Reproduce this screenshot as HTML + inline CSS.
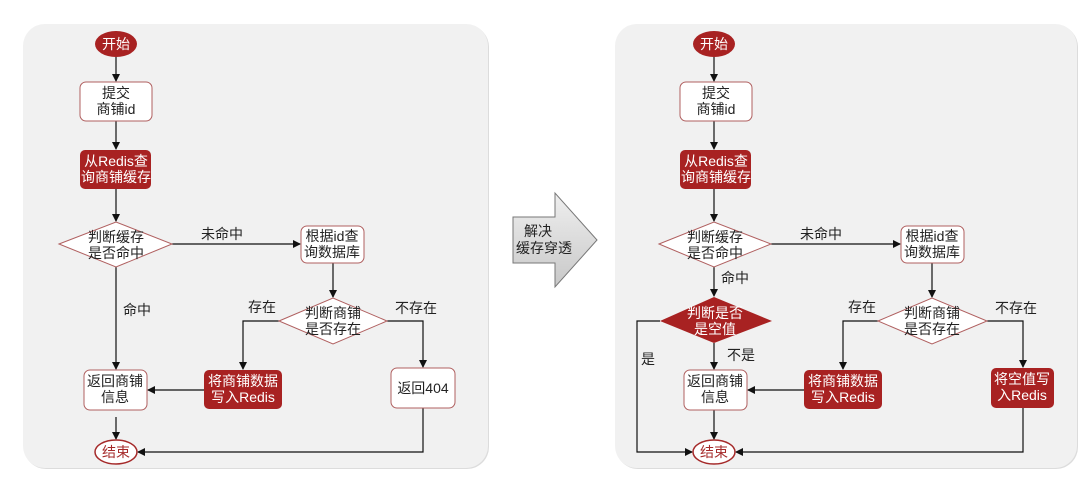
<!DOCTYPE html>
<html><head><meta charset="utf-8"><style>
html,body{margin:0;padding:0;background:#fff;width:1089px;height:480px;overflow:hidden}
svg text{font-family:"Liberation Sans","Noto Sans CJK SC",sans-serif;font-size:14px;fill:#222}
</style></head><body>
<svg width="1089" height="480" viewBox="0 0 1089 480" xmlns="http://www.w3.org/2000/svg">
<defs>
<marker id="a" markerWidth="8" markerHeight="8" refX="7" refY="4" orient="auto" markerUnits="userSpaceOnUse"><path d="M0,0 L8,4 L0,8 z" fill="#111"/></marker>
<linearGradient id="g" x1="0" y1="0" x2="0" y2="1"><stop offset="0" stop-color="#efefef"/><stop offset="1" stop-color="#c8c8c8"/></linearGradient>
</defs>
<rect x="24" y="25" width="465" height="444" rx="22" fill="#dcdcdc"/>
<rect x="23" y="24" width="465" height="444" rx="22" fill="#f1f1f1"/>
<rect x="616" y="25" width="462" height="444" rx="22" fill="#dcdcdc"/>
<rect x="615" y="24" width="462" height="444" rx="22" fill="#f1f1f1"/>

<path d="M513,217 L555,217 L555,193 L597,240 L555,287 L555,263 L513,263 z" fill="url(#g)" stroke="#777" stroke-width="1"/>
<text x="538" y="236" text-anchor="middle">解决</text>
<text x="544" y="253" text-anchor="middle">缓存穿透</text>

<g stroke="#111" stroke-width="1.2" fill="none">
<line x1="116" y1="57" x2="116" y2="81" marker-end="url(#a)"/>
<line x1="116" y1="121" x2="116" y2="149" marker-end="url(#a)"/>
<line x1="116" y1="189" x2="116" y2="221" marker-end="url(#a)"/>
<line x1="172" y1="244" x2="300" y2="244" marker-end="url(#a)"/>
<line x1="333" y1="263" x2="333" y2="297" marker-end="url(#a)"/>
<polyline points="279,321 243,321 243,369" marker-end="url(#a)"/>
<polyline points="387,321 423,321 423,367" marker-end="url(#a)"/>
<line x1="116" y1="267" x2="116" y2="369" marker-end="url(#a)"/>
<line x1="204" y1="390" x2="148" y2="390" marker-end="url(#a)"/>
<line x1="116" y1="417" x2="116" y2="439" marker-end="url(#a)"/>
<polyline points="423,408 423,452 138,452" marker-end="url(#a)"/>
<line x1="714" y1="57" x2="714" y2="81" marker-end="url(#a)"/>
<line x1="714" y1="121" x2="714" y2="149" marker-end="url(#a)"/>
<line x1="714" y1="189" x2="714" y2="221" marker-end="url(#a)"/>
<line x1="771" y1="244" x2="900" y2="244" marker-end="url(#a)"/>
<line x1="932" y1="263" x2="932" y2="297" marker-end="url(#a)"/>
<polyline points="878,321 843,321 843,369" marker-end="url(#a)"/>
<polyline points="987,321 1023,321 1023,367" marker-end="url(#a)"/>
<line x1="714" y1="267" x2="714" y2="296" marker-end="url(#a)"/>
<line x1="714" y1="343" x2="714" y2="369" marker-end="url(#a)"/>
<polyline points="660,321 637,321 637,452 692,452" marker-end="url(#a)"/>
<line x1="804" y1="390" x2="748" y2="390" marker-end="url(#a)"/>
<line x1="714" y1="410" x2="714" y2="439" marker-end="url(#a)"/>
<polyline points="1023,408 1023,452 736,452" marker-end="url(#a)"/>
</g>

<g stroke="#b06060" stroke-width="1" fill="#fff">
<rect x="80" y="82" width="72" height="39" rx="6"/>
<rect x="301" y="226" width="63" height="37" rx="6"/>
<rect x="84" y="370" width="63" height="40" rx="6"/>
<rect x="391" y="368" width="64" height="40" rx="6"/>
<polygon points="59,244 116,222 172,244 116,267"/>
<polygon points="279,321 333,298 387,321 333,344"/>
<ellipse cx="116" cy="452" rx="21" ry="12" stroke="#a52a2a" stroke-width="1.5"/>
<rect x="680" y="82" width="72" height="39" rx="6"/>
<rect x="901" y="226" width="63" height="37" rx="6"/>
<rect x="684" y="370" width="63" height="40" rx="6"/>
<polygon points="659,244 714,222 771,244 714,267"/>
<polygon points="878,321 932,298 987,321 932,344"/>
<ellipse cx="714" cy="452" rx="21" ry="12" stroke="#a52a2a" stroke-width="1.5"/>
</g>
<g fill="#a82222">
<ellipse cx="116" cy="44" rx="21" ry="13"/>
<rect x="80" y="150" width="71" height="39" rx="5"/>
<rect x="204" y="370" width="78" height="39" rx="5"/>
<ellipse cx="714" cy="44" rx="21" ry="13"/>
<rect x="680" y="150" width="71" height="39" rx="5"/>
<rect x="804" y="370" width="78" height="39" rx="5"/>
<rect x="991" y="368" width="63" height="40" rx="5"/>
<polygon points="660,321 714,297 772,321 714,343"/>
</g>

<g text-anchor="middle">
<text x="116" y="49" style="fill:#fff">开始</text>
<text x="116" y="98">提交</text><text x="116" y="114">商铺id</text>
<text x="116" y="166" style="fill:#fff">从Redis查</text><text x="116" y="182" style="fill:#fff">询商铺缓存</text>
<text x="116" y="242">判断缓存</text><text x="116" y="258">是否命中</text>
<text x="332" y="241">根据id查</text><text x="332" y="257">询数据库</text>
<text x="333" y="318">判断商铺</text><text x="333" y="334">是否存在</text>
<text x="115" y="386">返回商铺</text><text x="115" y="402">信息</text>
<text x="243" y="386" style="fill:#fff">将商铺数据</text><text x="243" y="402" style="fill:#fff">写入Redis</text>
<text x="423" y="393">返回404</text>
<text x="116" y="457" style="fill:#a52a2a">结束</text>
<text x="222" y="239">未命中</text>
<text x="137" y="315">命中</text>
<text x="262" y="312">存在</text>
<text x="416" y="313">不存在</text>

<text x="714" y="49" style="fill:#fff">开始</text>
<text x="716" y="98">提交</text><text x="716" y="114">商铺id</text>
<text x="716" y="166" style="fill:#fff">从Redis查</text><text x="716" y="182" style="fill:#fff">询商铺缓存</text>
<text x="715" y="242">判断缓存</text><text x="715" y="258">是否命中</text>
<text x="932" y="241">根据id查</text><text x="932" y="257">询数据库</text>
<text x="932" y="318">判断商铺</text><text x="932" y="334">是否存在</text>
<text x="715" y="318" style="fill:#fff">判断是否</text><text x="715" y="334" style="fill:#fff">是空值</text>
<text x="715" y="386">返回商铺</text><text x="715" y="402">信息</text>
<text x="843" y="386" style="fill:#fff">将商铺数据</text><text x="843" y="402" style="fill:#fff">写入Redis</text>
<text x="1022" y="384" style="fill:#fff">将空值写</text><text x="1022" y="400" style="fill:#fff">入Redis</text>
<text x="714" y="457" style="fill:#a52a2a">结束</text>
<text x="821" y="239">未命中</text>
<text x="735" y="283">命中</text>
<text x="862" y="312">存在</text>
<text x="1016" y="313">不存在</text>
<text x="648" y="364">是</text>
<text x="741" y="360">不是</text>
</g>
</svg>
</body></html>
